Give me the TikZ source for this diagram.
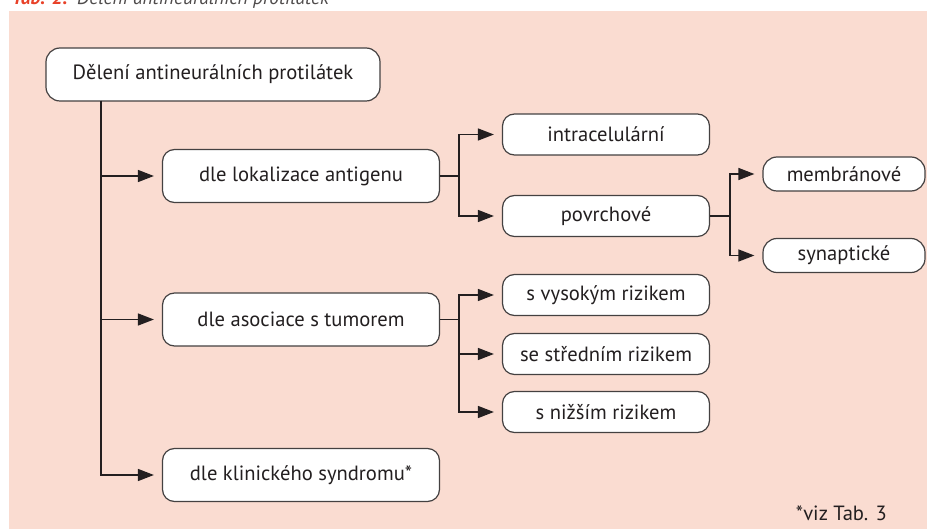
\documentclass[tikz,border=0pt]{standalone}
\usepackage{fontspec}
\setmainfont{PT Sans}
\usetikzlibrary{arrows.meta}
\definecolor{peach}{RGB}{250,220,209}
\definecolor{capred}{RGB}{232,65,40}
\definecolor{ink}{RGB}{35,31,32}

\begin{document}
\begin{tikzpicture}[x=1pt, y=-1pt,
    >={Triangle[length=16pt, width=12pt]},
    box/.style={draw=ink!85, line width=1.2pt, fill=white, rounded corners=12pt,
        text=ink, font=\fontsize{20.6}{24}\selectfont, inner sep=0pt},
    rootbox/.style={box, minimum width=334pt, minimum height=53pt, rounded corners=14pt},
    groupbox/.style={box, minimum width=277pt, minimum height=53pt},
    kindbox/.style={box, minimum width=207pt, minimum height=41pt},
    leafbox/.style={box, minimum width=162pt, minimum height=34pt, rounded corners=14pt},
    link/.style={draw=ink, line width=1.4pt},
    arrow/.style={link, ->, shorten >=8pt}]
                        \useasboundingbox (0, 0) rectangle (927, 529);
                        \fill[peach] (9, 11) rectangle (927, 529);

                        \node[anchor=base west, inner sep=0pt, font=\fontsize{19.5}{22}\selectfont\itshape] (caption) at (12, 5)
                            {\textcolor{capred}{\bfseries Tab. 2.}\enspace\textcolor{ink!80}{Dělení antineurálních protilátek}};

                        \node[rootbox] (root) at (213, 74.5) {Dělení antineurálních protilátek};
                        \node[groupbox] (lokal) at (301, 176) {dle lokalizace antigenu};
                        \node[groupbox] (tumor) at (301, 319.5) {dle asociace s tumorem};
                        \node[groupbox] (syndrom) at (301, 475) {dle klinického syndromu*};
                        \node[kindbox] (intra) at (606, 134.5) {intracelulární};
                        \node[kindbox] (povrch) at (606, 216) {povrchové};
                        \node[kindbox] (vysoke) at (606, 295) {s vysokým rizikem};
                        \node[kindbox] (stredni) at (606, 354) {se středním rizikem};
                        \node[kindbox] (nizsi) at (606, 412) {s nižším rizikem};
                        \node[leafbox] (membr) at (844, 174) {membránové};
                        \node[leafbox] (synap) at (844, 255.5) {synaptické};
                        \node[anchor=base east, inner sep=0pt, text=ink, font=\fontsize{20.6}{24}\selectfont] (note) at (887, 520) {*viz Tab. 3};

                        \coordinate (trunk) at (101, 101);
                        \coordinate (lokalfork) at (459, 176);
                        \coordinate (tumorfork) at (459, 319.5);
                        \coordinate (povrchfork) at (730, 216);

                        \draw[arrow] (trunk) |- (lokal);
                        \draw[arrow] (trunk) |- (tumor);
                        \draw[arrow] (trunk) |- (syndrom);
                        \draw[link] (lokal) -- (lokalfork);
                        \draw[arrow] (lokalfork) |- (intra);
                        \draw[arrow] (lokalfork) |- (povrch);
                        \draw[link] (tumor) -- (tumorfork);
                        \draw[arrow] (tumorfork) |- (vysoke);
                        \draw[arrow] (tumorfork) |- (stredni);
                        \draw[arrow] (tumorfork) |- (nizsi);
                        \draw[link] (povrch) -- (povrchfork);
                        \draw[arrow] (povrchfork) |- (membr);
                        \draw[arrow] (povrchfork) |- (synap);
                    \end{tikzpicture}
\end{document}
